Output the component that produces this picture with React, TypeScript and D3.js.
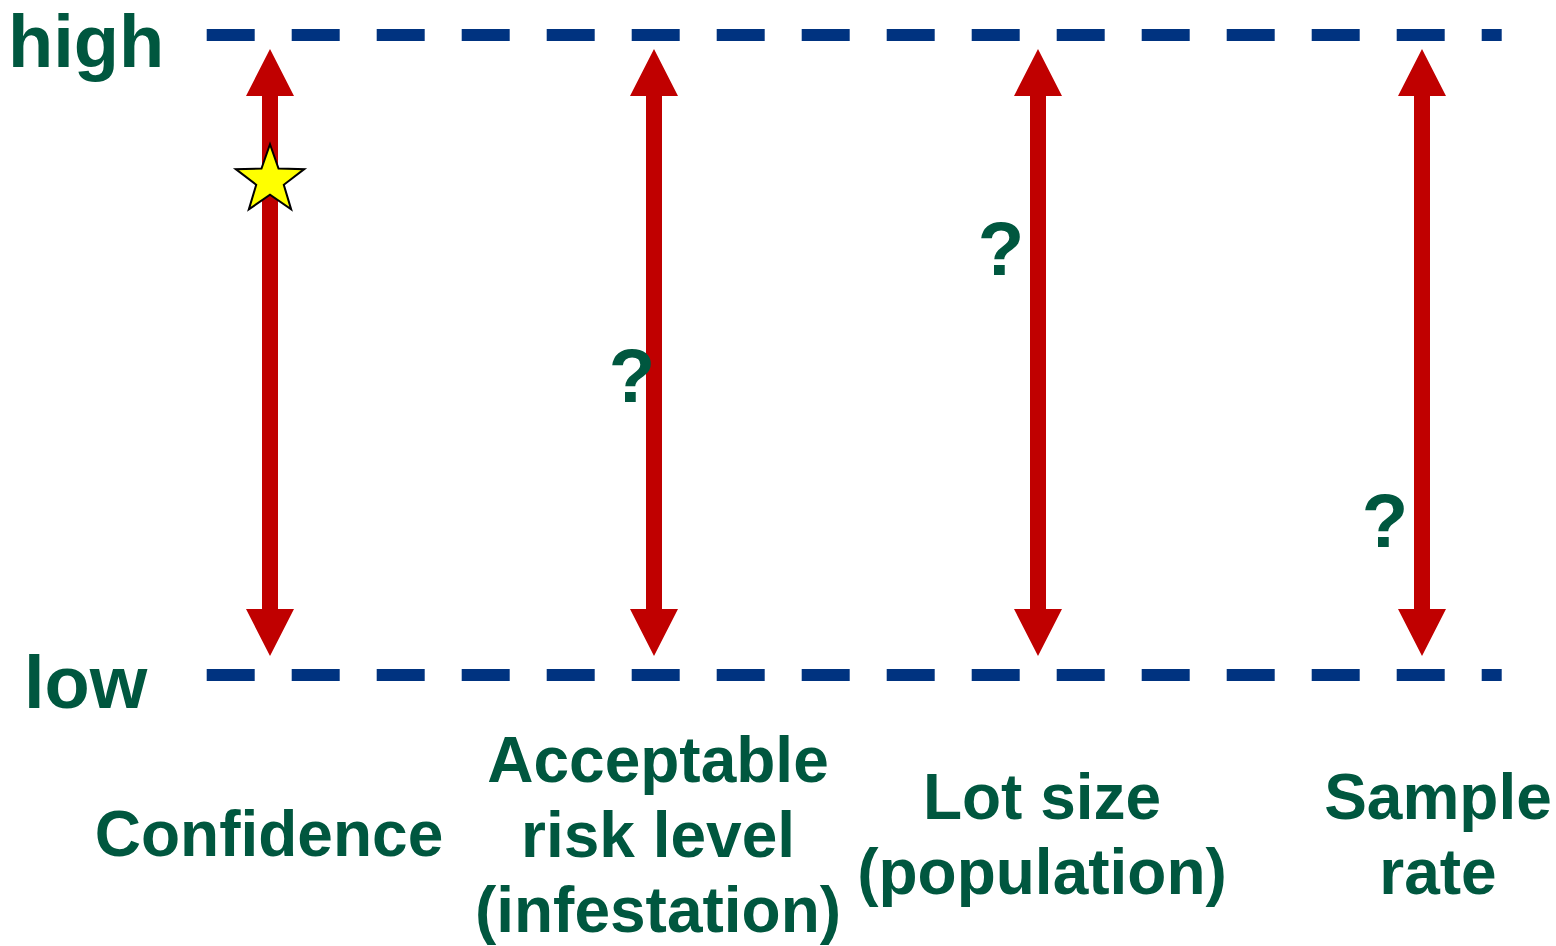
import React from "react";
import * as d3 from "d3";

// ---- data ----
const categories = ["Confidence", "Acceptable risk level (infestation)", "Lot size (population)", "Sample rate"];
const categoryLines = [
  ["Confidence"],
  ["Acceptable", "risk level", "(infestation)"],
  ["Lot size", "(population)"],
  ["Sample", "rate"],
];
const levelLabels = ["low", "high"];
const levelValues = [0, 1];
// marker on each scale: star = known, "?" = unknown
const markerKinds = ["star", "?", "?", "?"];
const markerValues = [0.773, 0.469, 0.667, 0.242];

const W = 1556;
const H = 946;
const GREEN = "#00573F";
const RED = "#C00000";
const BLUE = "#003380";
const FONT = "'Liberation Sans', Arial, sans-serif";

export default function App() {
  const x = d3.scalePoint<string>().domain(categories).range([270, 1422]);
  const y = d3.scaleLinear().domain([0, 1]).range([675, 35]);

  const labelDx = [-1, 4, 4, 16];
  const labelFirstBaseline = [856, 782, 819, 819];
  const lineH = 75;
  const markerDx = [0, -22, -37, -37];

  const shaftW = 16;
  const headW = 48;
  const headL = 47;

  const starPath = (cx: number, cy: number, R: number, r: number) => {
    const pts: [number, number][] = [];
    for (let i = 0; i < 10; i++) {
      const a = -Math.PI / 2 + (i * Math.PI) / 5;
      const rad = i % 2 === 0 ? R : r;
      pts.push([cx + rad * Math.cos(a), cy + rad * Math.sin(a)]);
    }
    return d3.line()(pts)! + "Z";
  };

  return (
    <svg width={W} height={H} style={{ position: "absolute", left: 0, top: 0, background: "#fff" }}>
      {/* level lines */}
      {levelValues.map((v, i) => (
        <line
          key={"lvl" + i}
          x1={206.7}
          x2={1501.7}
          y1={y(v)}
          y2={y(v)}
          stroke={BLUE}
          strokeWidth={12}
          strokeDasharray="48 37"
        />
      ))}
      {levelLabels.map((t, i) => (
        <text
          key={"ll" + i}
          x={i === 1 ? 8 : 24}
          y={y(levelValues[i]) + (i === 1 ? 31.5 : 33)}
          fontFamily={FONT}
          fontWeight="bold"
          fontSize={74}
          fill={GREEN}
        >
          {t}
        </text>
      ))}
      {/* arrows */}
      {categories.map((c, i) => {
        const cx = x(c)!;
        const top = y(1) + 14;
        const bot = y(0) - 19;
        const p = d3.path();
        p.moveTo(cx, top);
        p.lineTo(cx + headW / 2, top + headL);
        p.lineTo(cx + shaftW / 2, top + headL);
        p.lineTo(cx + shaftW / 2, bot - headL);
        p.lineTo(cx + headW / 2, bot - headL);
        p.lineTo(cx, bot);
        p.lineTo(cx - headW / 2, bot - headL);
        p.lineTo(cx - shaftW / 2, bot - headL);
        p.lineTo(cx - shaftW / 2, top + headL);
        p.lineTo(cx - headW / 2, top + headL);
        p.closePath();
        return <path key={"ar" + i} d={p.toString()} fill={RED} />;
      })}
      {/* markers */}
      {categories.map((c, i) => {
        const cx = x(c)!;
        const cy = y(markerValues[i]);
        if (markerKinds[i] === "star") {
          return (
            <path
              key={"mk" + i}
              d={starPath(cx, cy, 36, 14.5)}
              fill="#FFFF00"
              stroke="#000"
              strokeWidth={2}
              strokeLinejoin="miter"
            />
          );
        }
        return (
          <text
            key={"mk" + i}
            x={cx + markerDx[i]}
            y={cy + 27}
            textAnchor="middle"
            fontFamily={FONT}
            fontWeight="bold"
            fontSize={76}
            fill={GREEN}
          >
            ?
          </text>
        );
      })}
      {/* category labels */}
      {categories.map((c, i) => (
        <text
          key={"cl" + i}
          textAnchor="middle"
          fontFamily={FONT}
          fontWeight="bold"
          fontSize={64}
          fill={GREEN}
        >
          {categoryLines[i].map((ln, j) => (
            <tspan key={j} x={x(c)! + labelDx[i]} y={labelFirstBaseline[i] + j * lineH}>
              {ln}
            </tspan>
          ))}
        </text>
      ))}
    </svg>
  );
}
